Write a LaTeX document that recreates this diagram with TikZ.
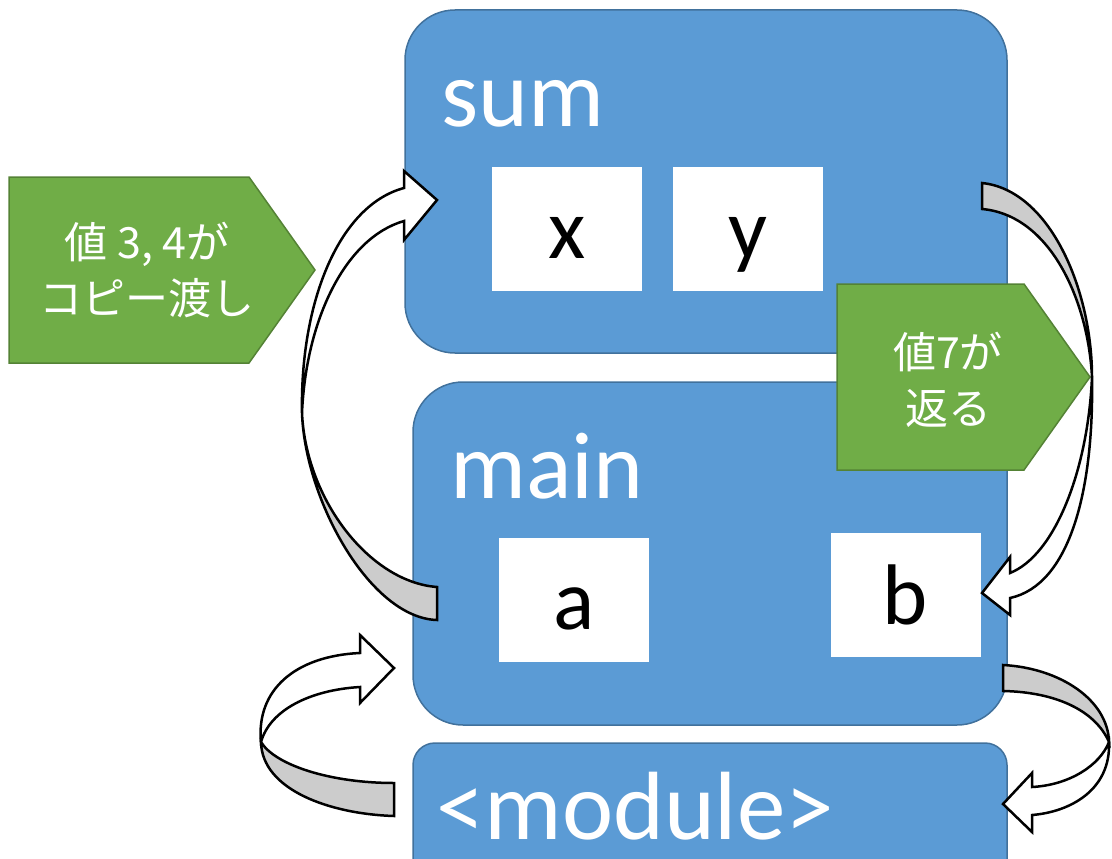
\documentclass[tikz,border=0pt]{standalone}
\usepackage{fontspec}
\setmainfont{Carlito}
\newfontfamily\jpfont{Noto Sans CJK JP}
\usetikzlibrary{positioning}
\definecolor{boxblue}{HTML}{5B9BD5}
\definecolor{boxedge}{HTML}{41719C}
\definecolor{taggreen}{HTML}{70AD47}
\definecolor{tagedge}{HTML}{548235}
\definecolor{backgray}{HTML}{CCCCCC}

\begin{document}
\begin{tikzpicture}[x=1pt,y=-1pt,
    frame/.style={draw=boxedge,line width=1.5pt,fill=boxblue,rounded corners=50pt,inner sep=0pt},
    cell/.style={fill=white,inner sep=0pt,minimum width=150pt,minimum height=124pt,
      text height=70pt,text depth=12pt,font=\fontsize{86}{86}\selectfont},
    boxtitle/.style={text=white,inner sep=0pt,anchor=base west,font=\fontsize{95}{95}\selectfont},
    tag/.style={draw=tagedge,line width=1.5pt,fill=taggreen},
    tagtext/.style={text=white,align=center,inner sep=0pt,font=\jpfont\fontsize{43}{56}\selectfont},
    front/.style={draw=black,line width=2.5pt,fill=white,line join=miter},
    back/.style={draw=black,line width=2.5pt,fill=backgray,line join=miter}]
      \useasboundingbox (0,0) rectangle (1112,859);

      \node[frame,minimum width=602pt,minimum height=343pt] (sum) at (706,181.5) {};
      \node[frame,minimum width=594pt,minimum height=343pt] (main) at (710,553.5) {};
      \node[frame,rounded corners=22pt,minimum width=594pt,minimum height=150pt] (module) at (710,818) {};

      \node[boxtitle] (sumname) at (441,127) {sum};
      \node[boxtitle] (mainname) at (450,498) {main};
      \node[boxtitle,font=\fontsize{97}{97}\selectfont] (modname) at (436,839) {<module>};

      \node[cell] (x) at (567,229) {x};
      \node[cell] (y) at (748,229) {y};
      \node[cell] (a) at (574,600) {a};
      \node[cell] (b) at (905.5,595) {b};

      \draw[tag] (9,177) -- (249,177) -- (315,270) -- (249,363) -- (9,363) -- cycle;
      \node[tagtext] (passtext) at (147,270) {値 3, 4が\\コピー渡し};
      \draw[tag] (837,284) -- (1024,284) -- (1090,377) -- (1024,470) -- (837,470) -- cycle;
      \node[tagtext] (backtext) at (948,380) {値7が\\返る};

      \draw[back] (302,413) .. controls (305,500) and (370,618) .. (437,620)
        -- (437,587) .. controls (370,582) and (306,500) .. (302,413) -- cycle;
      \draw[front] (302,413) .. controls (300,300) and (340,205) .. (404,188)
        -- (404,171) -- (437,200) -- (404,240) -- (404,221)
        .. controls (345,238) and (306,320) .. (302,413) -- cycle;

      \draw[back] (982,183) .. controls (1050,190) and (1092,290) .. (1092,377)
        .. controls (1088,300) and (1050,215) .. (982,209) -- cycle;
      \draw[front] (1092,377) .. controls (1094,490) and (1070,585) .. (1010,598)
        -- (1010,615) -- (982,593) -- (1010,557) -- (1010,573)
        .. controls (1055,555) and (1088,470) .. (1092,377) -- cycle;

      \draw[back] (261,742) .. controls (262,790) and (330,814) .. (394,816)
        -- (394,783) .. controls (330,783) and (275,765) .. (261,742) -- cycle;
      \draw[front] (261,742) .. controls (256,690) and (295,656) .. (360,653)
        -- (360,635) -- (394,668) -- (360,703) -- (360,687)
        .. controls (310,690) and (270,710) .. (261,742) -- cycle;

      \draw[back] (1003,665) .. controls (1060,668) and (1108,700) .. (1109,742)
        .. controls (1095,710) and (1055,692) .. (1003,691) -- cycle;
      \draw[front] (1109,742) .. controls (1111,790) and (1070,812) .. (1032,815)
        -- (1032,832) -- (1003,804) -- (1032,773) -- (1032,787)
        .. controls (1070,785) and (1100,765) .. (1109,742) -- cycle;
    \end{tikzpicture}
\end{document}
